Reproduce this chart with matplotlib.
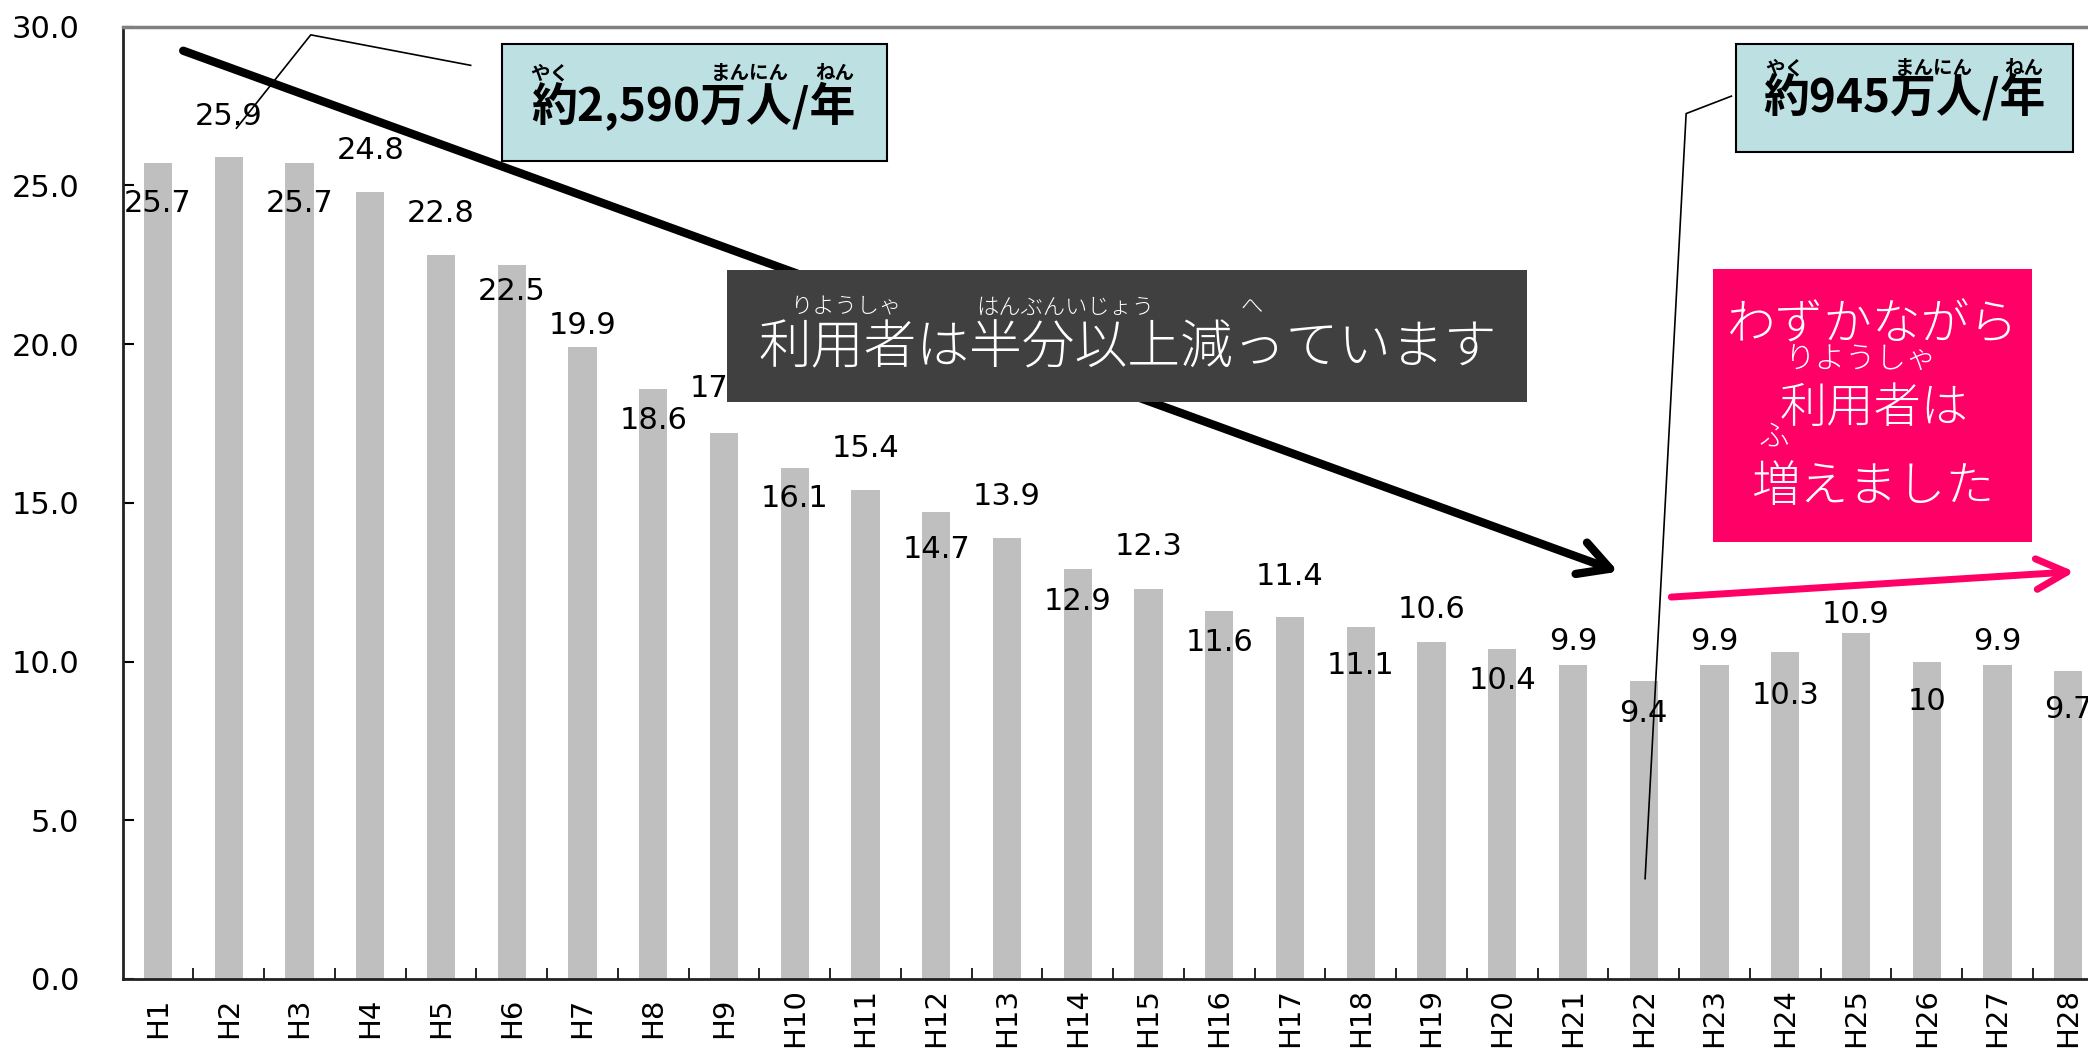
import matplotlib
matplotlib.use("Agg")
import matplotlib.pyplot as plt
from matplotlib.patches import Rectangle

# ---- data ----
categories = ["H1", "H2", "H3", "H4", "H5", "H6", "H7", "H8", "H9", "H10",
              "H11", "H12", "H13", "H14", "H15", "H16", "H17", "H18", "H19", "H20",
              "H21", "H22", "H23", "H24", "H25", "H26", "H27", "H28"]
values = [25.7, 25.9, 25.7, 24.8, 22.8, 22.5, 19.9, 18.6, 17.2, 16.1,
          15.4, 14.7, 13.9, 12.9, 12.3, 11.6, 11.4, 11.1, 10.6, 10.4,
          9.9, 9.4, 9.9, 10.3, 10.9, 10.0, 9.9, 9.7]
# vertical offset (points) of each value label from its bar top
label_offset = [-29, 29, -29, 30, 30, -19, 16, -23, 32, -22,
                30, -27, 30, -23, 30, -23, 29, -28, 24, -23,
                17, -24, 17, -31, 13, -29, 17, -28]
yticks = [0, 5, 10, 15, 20, 25, 30]

JP = ["Noto Sans CJK JP", "DejaVu Sans"]

fig = plt.figure(figsize=(20.88, 10.64), dpi=100)
ax = fig.add_axes([0.0587, 0.0799, 1.0 - 0.0587, 0.975 - 0.0799])

x = list(range(len(categories)))
ax.bar(x, values, width=0.4, color="#BFBFBF", zorder=2)

for xi, v, off in zip(x, values, label_offset):
    ax.annotate(f"{v:g}", (xi, v), xytext=(0, off), textcoords="offset points",
                ha="center", va="center", fontsize=22, color="black", zorder=3,
                annotation_clip=False)

ax.set_xticks(x)
ax.set_xticklabels(categories, rotation=90, fontsize=21)
for lab in ax.get_xticklabels():
    lab.set_va("center")
ax.set_xticks([i + 0.5 for i in x], minor=True)
ax.tick_params(axis="x", which="major", length=0, pad=28)
ax.tick_params(axis="x", which="minor", direction="in", length=8, width=1.2, color="black")
ax.set_yticks(yticks)
ax.set_yticklabels([f"{t:.1f}" for t in yticks], fontsize=22)
ax.tick_params(axis="y", direction="in", length=8, width=1.5, pad=31)

for s in ["left", "bottom"]:
    ax.spines[s].set_color("#222222")
    ax.spines[s].set_linewidth(2)
ax.spines["top"].set_color("#808080")
ax.spines["top"].set_linewidth(2.5)
ax.spines["right"].set_visible(False)

# black trend arrow
ax.annotate("", xy=(20.64, 12.83), xytext=(0.357, 29.24),
            arrowprops=dict(arrowstyle="->,head_length=1.1,head_width=0.6", lw=6, color="black",
                            shrinkA=0, shrinkB=0, mutation_scale=20), zorder=4)
# pink arrow
ax.annotate("", xy=(27.09, 12.83), xytext=(21.39, 12.03),
            arrowprops=dict(arrowstyle="->,head_length=1.1,head_width=0.55", lw=5, color="#FF0066",
                            shrinkA=0, shrinkB=0, mutation_scale=20), zorder=4, annotation_clip=False)

# callout lines
ax.plot([4.42, 2.16, 1.11], [28.78, 29.74, 26.8], color="black", lw=1.2, zorder=4, clip_on=False)
ax.plot([22.24, 21.6, 21.02], [27.81, 27.26, 3.16], color="black", lw=1.2, zorder=4, clip_on=False)
ax.set_xlim(-0.5, 27.28)
ax.set_ylim(0, 30)

def box(x0, y0, x1, y1, fc, ec=None, lw=0):
    r = Rectangle((x0, y0), x1 - x0, y1 - y0, transform=fig.transFigure,
                  facecolor=fc, edgecolor=ec if ec else fc, linewidth=lw, zorder=10)
    fig.patches.append(r)

def ftext(xf, yf, s, size, color="black", weight="normal"):
    fig.text(xf, yf, s, ha="center", va="center", fontsize=size, color=color,
             fontweight=weight, family=JP, zorder=11)

# left teal box
box(0.2404, 0.8486, 0.4247, 0.9587, "#BDE0E3", "black", 1.5)
ftext(0.3323, 0.8995, "約2,590万人/年", 33, weight="bold")
ftext(0.2634, 0.9310, "やく", 14, weight="bold")
ftext(0.3591, 0.9310, "まんにん", 14, weight="bold")
ftext(0.4000, 0.9310, "ねん", 14, weight="bold")

# right teal box
box(0.8316, 0.8573, 0.9930, 0.9587, "#BDE0E3", "black", 1.5)
ftext(0.9123, 0.9080, "約945万人/年", 33, weight="bold")
ftext(0.8546, 0.9355, "やく", 14, weight="bold")
ftext(0.9260, 0.9355, "まんにん", 14, weight="bold")
ftext(0.9690, 0.9355, "ねん", 14, weight="bold")

# dark box
box(0.3482, 0.622, 0.7315, 0.7459, "#404040")
ftext(0.5399, 0.6721, "利用者は半分以上減っています", 38, color="white", weight="light")
ftext(0.4050, 0.7110, "りようしゃ", 16, color="white", weight="light")
ftext(0.5100, 0.7110, "はんぶんいじょう", 16, color="white", weight="light")
ftext(0.5995, 0.7110, "へ", 16, color="white", weight="light")

# pink box
box(0.8202, 0.4906, 0.9732, 0.7472, "#FF0066")
ftext(0.8967, 0.6934, "わずかながら", 35, color="white", weight="light")
ftext(0.8910, 0.6621, "りようしゃ", 22, color="white", weight="light")
ftext(0.8973, 0.6158, "利用者は", 34, color="white", weight="light")
ftext(0.8495, 0.5895, "ふ", 22, color="white", weight="light")
ftext(0.8967, 0.5419, "増えました", 35, color="white", weight="light")

fig.savefig("out.png", dpi=100)
